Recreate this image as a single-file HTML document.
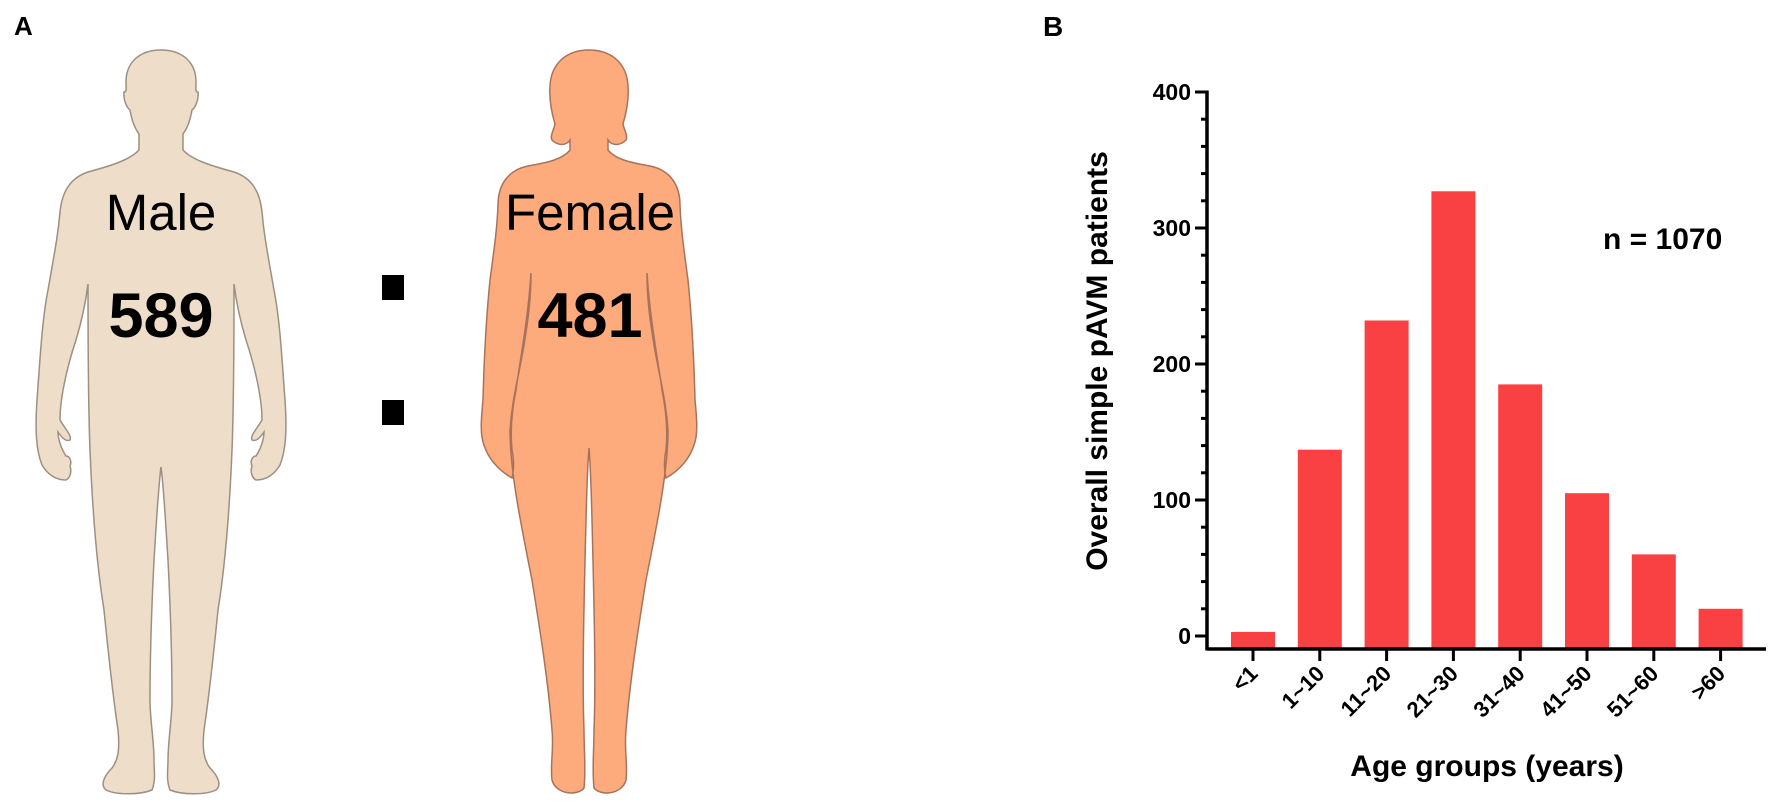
<!DOCTYPE html>
<html><head><meta charset="utf-8"><style>
html,body{margin:0;padding:0;background:#fff;}
svg{display:block;}
text{font-family:"Liberation Sans",Arial,sans-serif;}
</style></head><body>
<svg id="fig" width="1772" height="809" viewBox="0 0 1772 809" xmlns="http://www.w3.org/2000/svg">
  <text x="14" y="35" font-size="26" font-weight="bold">A</text>
  <text x="1043" y="36" font-size="28" font-weight="bold">B</text>

  <!-- Male silhouette -->
  <path fill="#EEDDC8" stroke="#9c9083" stroke-width="1.5"
    d="M161,50 C140,50 126,62 126,82 C126,88 127,92 124,92 C123,100 127,108 130,110 C132,122 136,130 139,134 L139,150
       C130,160 110,166 88,172 C70,178 62,192 60,212 C58,235 55,250 48,290 C42,320 40,360 37,400 C35,430 36,450 42,465
       C48,475 56,480 66,480 C70,478 72,472 70,466 C72,462 70,456 66,456 C62,450 58,440 58,432 C62,438 66,442 70,440
       C72,436 66,430 60,420 C60,400 66,370 76,340 C82,320 86,300 88,284
       C88,330 88,400 90,450 C92,500 96,560 104,610 C108,650 112,690 118,730 C120,750 118,760 112,768 C104,776 100,785 106,790
       C116,795 140,795 152,790 C156,780 154,770 154,760 C154,740 150,720 150,700 C150,650 152,600 154,560 C156,530 158,490 161,467
       C164,490 166,530 168,560 C170,600 172,650 172,700 C172,720 168,740 168,760 C168,770 166,780 170,790 C182,795 206,795 216,790
       C222,785 218,776 210,768 C204,760 202,750 204,730 C210,690 214,650 218,610 C226,560 230,500 232,450 C234,400 234,330 234,284
       C236,300 240,320 246,340 C256,370 262,400 262,420 C256,430 250,436 252,440 C256,442 260,438 264,432 C264,440 260,450 256,456
       C252,456 250,462 252,466 C250,472 252,478 256,480 C266,480 274,475 280,465 C286,450 287,430 285,400 C282,360 280,320 274,290
       C267,250 264,235 262,212 C260,192 252,178 234,172 C212,166 192,160 183,150 L183,134 C186,130 190,122 192,110
       C195,108 199,100 198,92 C195,92 196,88 196,82 C196,62 182,50 161,50 Z"/>
  <text x="161" y="230" font-size="51" text-anchor="middle">Male</text>
  <text x="161" y="337" font-size="63" font-weight="bold" text-anchor="middle">589</text>

  <!-- Colon -->
  <rect x="382" y="275" width="22" height="25" fill="#000"/>
  <rect x="382" y="400" width="22" height="25" fill="#000"/>

  <!-- Female silhouette -->
  <path fill="#FDAB7D" stroke="#a7735c" stroke-width="1.5"
    d="M589,50 C566,50 551,64 550,86 C549,100 552,114 555,124 C553,132 550,136 552,140 C558,146 566,146 570,140 L570,150
       C562,160 545,163 528,166 C508,170 498,185 498,205 C497,230 494,250 490,280 C486,320 484,360 483,400 C481,420 480,435 484,445
       C488,458 498,470 512,478 C514,470 514,460 512,450 C510,430 512,410 516,390 C520,360 528,320 531,273
       C531,300 528,320 524,345 C518,380 512,400 510,430 C510,470 520,520 532,580 C540,630 548,680 552,730
       C554,750 550,765 552,780 C556,795 578,796 584,788 C586,770 584,750 584,730 C582,680 584,600 586,520 C587,480 588,460 589,448
       C590,460 591,480 592,520 C594,600 596,680 594,730 C594,750 592,770 594,788 C600,796 622,795 626,780 C628,765 624,750 626,730
       C630,680 638,630 646,580 C658,520 668,470 668,430 C666,400 660,380 654,345 C650,320 647,300 647,273
       C650,320 658,360 662,390 C666,410 668,430 666,450 C664,460 664,470 666,478 C680,470 690,458 694,445 C698,435 697,420 695,400
       C694,360 692,320 688,280 C684,250 681,230 680,205 C680,185 670,170 650,166 C633,163 616,160 608,150 L608,140
       C612,146 620,146 626,140 C628,136 625,132 623,124 C626,114 629,100 628,86 C627,64 612,50 589,50 Z"/>
  <text x="590" y="230" font-size="51" text-anchor="middle">Female</text>
  <text x="590" y="337" font-size="63" font-weight="bold" text-anchor="middle">481</text>

  <g id="chart"></g>
</svg>
<script>
const categories = ["<1","1~10","11~20","21~30","31~40","41~50","51~60",">60"];
const patientCounts = [3, 137, 232, 327, 185, 105, 60, 20];
const yTickLabels = ["0","100","200","300","400"];
const yTickValues = [0, 100, 200, 300, 400];

const NS = "http://www.w3.org/2000/svg";
const g = document.getElementById('chart');
const axisX = 1207, axisBottom = 649, y0 = 636, pxPerUnit = 1.36;
const firstCenter = 1253, pitch = 66.8, barW = 44;
function yScale(v){ return y0 - v * pxPerUnit; }
function xScale(i){ return firstCenter + i * pitch; }
function mk(tag, attrs){ const e = document.createElementNS(NS, tag); for (const k in attrs) e.setAttribute(k, attrs[k]); g.appendChild(e); return e; }

// bars
categories.forEach((c, i) => {
  const top = yScale(patientCounts[i]);
  const r = mk('rect', {x: xScale(i) - barW/2, y: top, width: barW, height: axisBottom - top, fill: '#F94043'});
  
  
});

// y axis
const ya = mk('line', {x1: axisX, y1: yScale(400) - 1.5, x2: axisX, y2: axisBottom + 1.5, stroke: '#000', 'stroke-width': 3.5});


for (let v = 0; v <= 400; v += 20) {
  const major = v % 100 === 0;
  const t = mk('line', {x1: axisX - (major ? 12 : 6), y1: yScale(v), x2: axisX, y2: yScale(v), stroke: '#000', 'stroke-width': 3});
  
  
}
yTickValues.forEach((v, i) => {
  const t = mk('text', {x: axisX - 16, y: yScale(v) + 8, 'font-size': 23, 'font-weight': 'bold', 'text-anchor': 'end'});
  t.textContent = yTickLabels[i];
  
  
});

// x axis
const xa = mk('line', {x1: axisX, y1: axisBottom, x2: 1766, y2: axisBottom, stroke: '#000', 'stroke-width': 3.5});


categories.forEach((c, i) => {
  const cx = xScale(i);
  const t = mk('line', {x1: cx, y1: axisBottom, x2: cx, y2: axisBottom + 12, stroke: '#000', 'stroke-width': 3});
  
  
  const l = mk('text', {x: cx + 6, y: axisBottom + 26, 'font-size': 22, 'font-weight': 'bold', 'text-anchor': 'end', transform: `rotate(-45 ${cx + 6} ${axisBottom + 26})`});
  l.textContent = c;
  
  
});

const xt = mk('text', {x: 1487, y: 776, 'font-size': 30, 'font-weight': 'bold', 'text-anchor': 'middle'});
xt.textContent = 'Age groups (years)';



const yt = mk('text', {x: 0, y: 0, 'font-size': 30, 'font-weight': 'bold', 'text-anchor': 'middle', transform: 'translate(1107 361) rotate(-90)'});
yt.textContent = 'Overall simple pAVM patients';



const nt = mk('text', {x: 1603, y: 249, 'font-size': 30, 'font-weight': 'bold'});
nt.textContent = 'n = 1070';


</script>
</body></html>
